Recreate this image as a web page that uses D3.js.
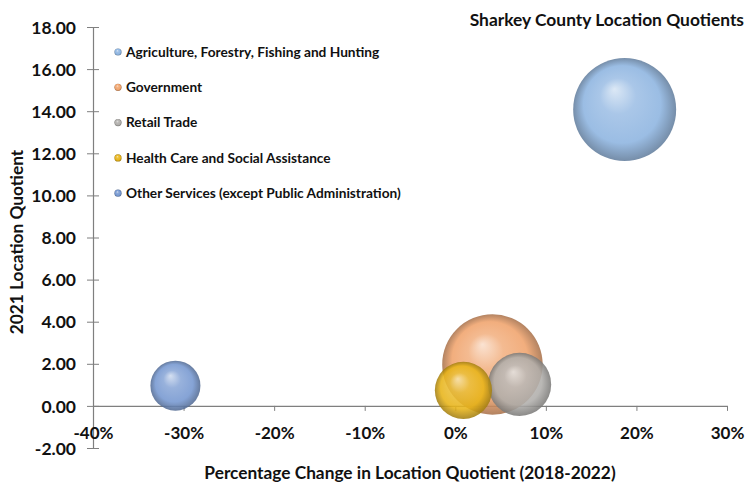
<!DOCTYPE html>
<html>
<head>
<meta charset="utf-8">
<script src="https://cdn.jsdelivr.net/npm/d3@7"></script>
<style>
  body { margin: 0; background: #ffffff; overflow: hidden; }
  svg text { font-family: Lato, "Open Sans", sans-serif; font-weight: bold; fill: #111111; }
</style>
</head>
<body>
<svg id="chart" width="746" height="485"></svg>
<script>
// industries, bubble x/y/size
var industries = ["Agriculture, Forestry, Fishing and Hunting", "Government", "Retail Trade",
                  "Health Care and Social Assistance", "Other Services (except Public Administration)"];
var lqChange = [0.187, 0.041, 0.071, 0.009, -0.309];   // % change in LQ 2018-2022
var lq2021 = [14.08, 1.97, 1.02, 0.74, 0.96];
var bubbleSize = [263, 250, 99, 81, 62];
var colors = ["#8db4e0", "#f0a36c", "#b0aeab", "#e8b418", "#7597d0"];
var yTicks = [-2, 0, 2, 4, 6, 8, 10, 12, 14, 16, 18];
var xTicks = [-0.4, -0.3, -0.2, -0.1, 0, 0.1, 0.2, 0.3];

var svg = d3.select("#chart");

var x = d3.scaleLinear().domain([-0.4, 0.3]).range([93, 727]);
var y = d3.scaleLinear().domain([-2, 18]).range([448, 27]);
var r = d3.scaleSqrt().domain([0, d3.max(bubbleSize)]).range([0, 51.5]);

// plain hyphen for negatives, like the original
var hyphen = function(f) { return function(v) { return f(v).replace("\u2212", "-"); }; };

// sphere-like gradients
var defs = svg.append("defs");
colors.forEach(function(c, i)
{
    var g = defs.append("radialGradient")
                .attr("id", "ball" + i)
                .attr("cx", "50%").attr("cy", "50%").attr("r", "50%")
                .attr("fx", "40%").attr("fy", "30%");
    var base = d3.color(c);
    g.append("stop").attr("offset", "0%").attr("stop-color", d3.interpolateRgb(c, "#ffffff")(0.65));
    g.append("stop").attr("offset", "35%").attr("stop-color", d3.interpolateRgb(c, "#ffffff")(0.15));
    g.append("stop").attr("offset", "75%").attr("stop-color", c);
    g.append("stop").attr("offset", "100%").attr("stop-color", base.darker(1));
});

// y axis
var yAxis = svg.append("g")
               .attr("transform", "translate(" + x(-0.4) + ",0)")
               .call(d3.axisLeft(y).tickValues(yTicks).tickFormat(hyphen(d3.format(".2f")))
                       .tickSizeInner(6).tickSizeOuter(0).tickPadding(11));
yAxis.select(".domain").attr("stroke", "#7f7f7f").attr("stroke-width", 1.2);
yAxis.selectAll(".tick line").attr("x1", -6).attr("x2", 6).attr("stroke", "#7f7f7f");
yAxis.selectAll(".tick text").style("font-size", "17.5px").attr("dy", "0.35em");

// x axis along LQ = 0
var xAxis = svg.append("g")
               .attr("transform", "translate(0," + y(0) + ")")
               .call(d3.axisBottom(x).tickValues(xTicks).tickFormat(hyphen(d3.format(".0%")))
                       .tickSizeInner(5).tickSizeOuter(0).tickPadding(15));
xAxis.select(".domain").attr("stroke", "#7f7f7f").attr("stroke-width", 1.2);
xAxis.selectAll(".tick line").attr("stroke", "#7f7f7f");
xAxis.selectAll(".tick text").style("font-size", "17px").attr("dy", "0.35em").attr("y", 27);

// bubbles
var data = industries.map(function(name, i)
{
    return {name: name, dx: lqChange[i], dy: lq2021[i], size: bubbleSize[i], i: i};
});

svg.append("g")
   .selectAll("circle")
   .data(data)
   .enter()
   .append("circle")
   .attr("cx", function(d) { return x(d.dx); })
   .attr("cy", function(d) { return y(d.dy); })
   .attr("r", function(d) { return r(d.size); })
   .style("fill", function(d) { return "url(#ball" + d.i + ")"; })
   .style("opacity", 0.88)
   .append("title")
   .text(function(d) { return d.name; });

// legend
var legend = svg.append("g")
                .selectAll("g")
                .data(data)
                .enter()
                .append("g")
                .attr("transform", function(d, i) { return "translate(118," + (52 + i * 35.3) + ")"; });
legend.append("circle")
      .attr("r", 3.6)
      .style("fill", function(d) { return "url(#ball" + d.i + ")"; });
legend.append("text")
      .attr("x", 8)
      .attr("dy", "0.35em")
      .style("font-size", "13.7px")
      .text(function(d) { return d.name; });

// title and axis titles
svg.append("text")
   .attr("x", 744).attr("y", 26)
   .attr("text-anchor", "end")
   .style("font-size", "17.4px")
   .text("Sharkey County Location Quotients");

svg.append("text")
   .attr("transform", "translate(23,242) rotate(-90)")
   .attr("text-anchor", "middle")
   .style("font-size", "17.3px")
   .text("2021 Location Quotient");

svg.append("text")
   .attr("x", 410).attr("y", 479)
   .attr("text-anchor", "middle")
   .style("font-size", "17.3px")
   .text("Percentage Change in Location Quotient (2018-2022)");
</script>
</body>
</html>
